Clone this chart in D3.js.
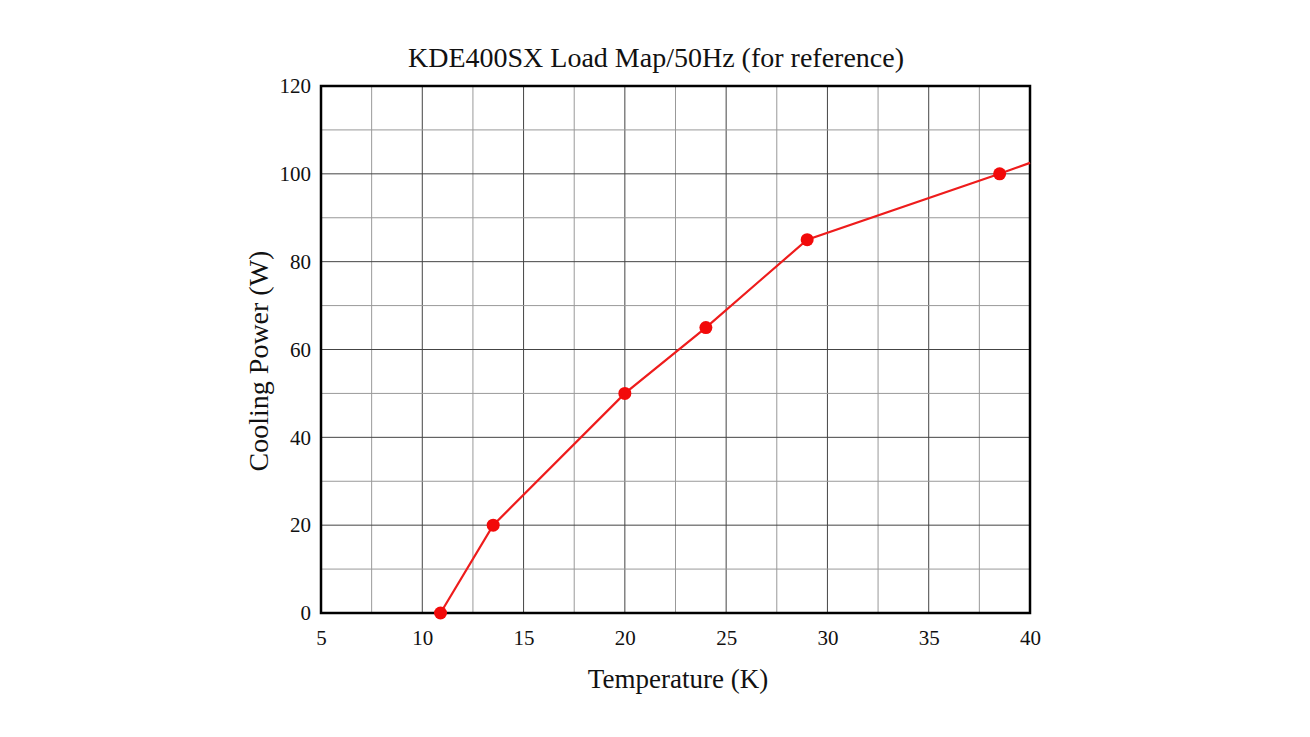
<!DOCTYPE html>
<html>
<head>
<meta charset="utf-8">
<script src="https://cdn.jsdelivr.net/npm/d3@7"></script>
<style>
  body { margin: 0; background: #fff; }
  text { font-family: "Liberation Serif", "Times New Roman", serif; fill: #111; }
</style>
</head>
<body>
<svg id="chart" width="1310" height="737"></svg>
<script>
// measured points (K, W)
const tempK = [10.9, 13.5, 20, 24, 29, 38.5];
const powerW = [0, 20, 50, 65, 85, 100];
// the curve runs on past the last point to the frame edge
const tailK = 40;
const tailW = 102.5;

const xTicks = [5, 10, 15, 20, 25, 30, 35, 40];
const yTicks = [0, 20, 40, 60, 80, 100, 120];

const plotL = 321, plotR = 1030, plotT = 86, plotB = 613;

const svg = d3.select('#chart');

const x = d3.scaleLinear().domain([5, 40]).range([plotL, plotR]);
const y = d3.scaleLinear().domain([0, 120]).range([plotB, plotT]);

// grid: minor every 2.5 K / 10 W, major every 5 K / 20 W
const grid = svg.append('g');
grid.selectAll('.vx')
  .data(d3.range(7.5, 40, 2.5))
  .enter().append('line')
  .attr('x1', d => x(d)).attr('x2', d => x(d))
  .attr('y1', plotT).attr('y2', plotB)
  .attr('stroke', d => d % 5 === 0 ? '#444' : '#999')
  .attr('stroke-width', 1);

grid.selectAll('.hy')
  .data(d3.range(10, 120, 10))
  .enter().append('line')
  .attr('x1', plotL).attr('x2', plotR)
  .attr('y1', d => y(d)).attr('y2', d => y(d))
  .attr('stroke', d => d % 20 === 0 ? '#444' : '#999')
  .attr('stroke-width', 1);

// frame
svg.append('rect')
  .attr('x', plotL).attr('y', plotT)
  .attr('width', plotR - plotL).attr('height', plotB - plotT)
  .attr('fill', 'none')
  .attr('stroke', '#000')
  .attr('stroke-width', 2.5);

// axes (labels only, frame draws the lines)
const xAxis = svg.append('g')
  .attr('transform', `translate(0,${plotB})`)
  .call(d3.axisBottom(x).tickValues(xTicks).tickSize(0).tickPadding(17));
xAxis.select('.domain').remove();
xAxis.selectAll('text')
  .style('font-family', '"Liberation Serif", serif')
  .style('font-size', '21px')
  .attr('fill', '#111');

const yAxis = svg.append('g')
  .attr('transform', `translate(${plotL},0)`)
  .call(d3.axisLeft(y).tickValues(yTicks).tickSize(0).tickPadding(10));
yAxis.select('.domain').remove();
yAxis.selectAll('text')
  .style('font-family', '"Liberation Serif", serif')
  .style('font-size', '21px')
  .attr('fill', '#111');

// curve
const pts = tempK.map((t, i) => [t, powerW[i]]);
const linePts = pts.concat([[tailK, tailW]]);

svg.append('path')
  .datum(linePts)
  .attr('fill', 'none')
  .attr('stroke', '#ee1c1c')
  .attr('stroke-width', 2.2)
  .attr('d', d3.line().x(d => x(d[0])).y(d => y(d[1])));

svg.selectAll('.pt')
  .data(pts)
  .enter().append('circle')
  .attr('cx', d => x(d[0]))
  .attr('cy', d => y(d[1]))
  .attr('r', 6.5)
  .attr('fill', '#f20a0a');

// titles
svg.append('text')
  .attr('x', 656).attr('y', 67)
  .attr('text-anchor', 'middle')
  .style('font-size', '28px')
  .text('KDE400SX Load Map/50Hz (for reference)');

svg.append('text')
  .attr('x', 678).attr('y', 688)
  .attr('text-anchor', 'middle')
  .style('font-size', '27px')
  .text('Temperature (K)');

svg.append('text')
  .attr('transform', 'translate(268,361) rotate(-90)')
  .attr('text-anchor', 'middle')
  .style('font-size', '28px')
  .text('Cooling Power (W)');
</script>
</body>
</html>
